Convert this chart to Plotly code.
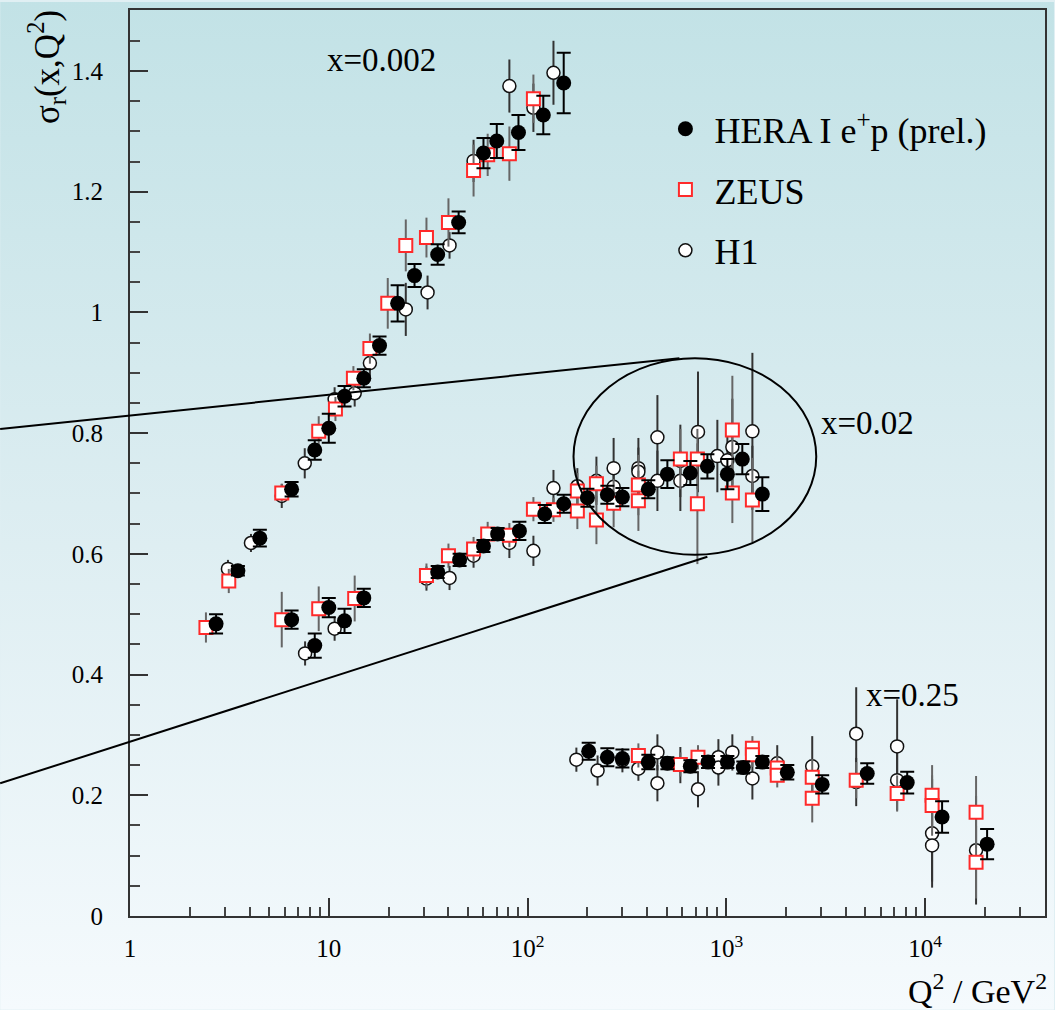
import base64
import plotly.graph_objects as go

# ---------------- data ----------------
# x = 0.002
q2_hera_002 = [3.49, 4.5, 6.5, 8.5, 10, 12, 15, 18, 22.2, 27, 35.3, 45, 60, 70, 90, 120, 152]
sig_hera_002 = [0.572, 0.626, 0.707, 0.772, 0.808, 0.861, 0.891, 0.945, 1.015, 1.061, 1.096, 1.149, 1.264, 1.284, 1.298, 1.327, 1.380]
err_hera_002 = [0.008, 0.014, 0.012, 0.016, 0.024, 0.017, 0.015, 0.015, 0.030, 0.019, 0.017, 0.018, 0.025, 0.028, 0.029, 0.032, 0.050]

q2_zeus_002 = [3.14, 5.8, 8.9, 10.8, 13.3, 16.1, 19.8, 24.4, 31, 40, 53.5, 63, 81, 107]
sig_zeus_002 = [0.555, 0.701, 0.803, 0.840, 0.891, 0.940, 1.015, 1.111, 1.124, 1.149, 1.235, 1.261, 1.263, 1.354]
err_zeus_002 = [0.020, 0.015, 0.025, 0.020, 0.020, 0.025, 0.042, 0.043, 0.033, 0.040, 0.043, 0.035, 0.045, 0.040]

q2_h1_002 = [3.11, 4.06, 5.8, 7.57, 10.7, 13.5, 16.1, 24.4, 31.4, 40.5, 53.5, 81, 107, 135]
sig_h1_002 = [0.575, 0.618, 0.696, 0.750, 0.856, 0.866, 0.916, 1.005, 1.033, 1.111, 1.251, 1.375, 1.339, 1.397]
err_h1_002 = [0.015, 0.015, 0.020, 0.025, 0.020, 0.022, 0.025, 0.044, 0.028, 0.022, 0.035, 0.044, 0.040, 0.053]

# x = 0.02
q2_hera_02 = [2.71, 6.5, 8.5, 10, 12, 15, 35.3, 45.5, 60, 70.7, 91, 122, 152, 200, 252, 300, 405, 505, 659, 803, 1012, 1203, 1517]
sig_hera_02 = [0.484, 0.491, 0.448, 0.511, 0.489, 0.527, 0.570, 0.590, 0.613, 0.633, 0.638, 0.666, 0.683, 0.693, 0.698, 0.694, 0.707, 0.732, 0.734, 0.745, 0.732, 0.757, 0.699]
err_hera_02 = [0.016, 0.015, 0.020, 0.016, 0.020, 0.015, 0.010, 0.010, 0.010, 0.010, 0.015, 0.015, 0.015, 0.015, 0.015, 0.015, 0.015, 0.023, 0.020, 0.020, 0.025, 0.025, 0.028]

q2_zeus_02 = [2.41, 5.8, 8.9, 13.5, 31, 40, 53.5, 63, 81, 107, 135, 178, 178, 222, 222, 271, 361, 361, 587, 715, 715, 1072, 1072, 1352]
sig_zeus_02 = [0.478, 0.491, 0.509, 0.526, 0.564, 0.597, 0.608, 0.633, 0.631, 0.674, 0.673, 0.704, 0.671, 0.716, 0.656, 0.684, 0.714, 0.688, 0.757, 0.757, 0.683, 0.805, 0.701, 0.689]
err_zeus_02 = [0.025, 0.046, 0.037, 0.038, 0.020, 0.020, 0.020, 0.020, 0.020, 0.020, 0.020, 0.030, 0.030, 0.030, 0.040, 0.040, 0.050, 0.050, 0.050, 0.050, 0.100, 0.090, 0.050, 0.070]

q2_h1_02 = [7.6, 10.7, 31, 40.5, 53.5, 81, 107, 135, 178, 222, 271, 271, 361, 361, 450, 450, 587, 587, 720, 901, 1012, 1072, 1352, 1352]
sig_h1_02 = [0.435, 0.476, 0.559, 0.560, 0.597, 0.618, 0.605, 0.709, 0.712, 0.721, 0.742, 0.711, 0.742, 0.736, 0.793, 0.721, 0.754, 0.721, 0.802, 0.762, 0.755, 0.777, 0.803, 0.729]
err_h1_02 = [0.020, 0.020, 0.020, 0.020, 0.020, 0.025, 0.025, 0.030, 0.030, 0.040, 0.050, 0.040, 0.050, 0.040, 0.070, 0.050, 0.060, 0.050, 0.100, 0.060, 0.050, 0.080, 0.130, 0.050]

# x = 0.25
q2_hera_25 = [203, 252, 300, 405, 505, 659, 809, 1012, 1217, 1517, 2026, 3035, 5113, 8125, 12170, 20500]
sig_hera_25 = [0.273, 0.263, 0.261, 0.255, 0.253, 0.248, 0.255, 0.255, 0.246, 0.255, 0.238, 0.218, 0.236, 0.221, 0.164, 0.119]
err_hera_25 = [0.014, 0.015, 0.015, 0.012, 0.010, 0.010, 0.010, 0.010, 0.010, 0.010, 0.012, 0.015, 0.017, 0.018, 0.026, 0.025]

q2_zeus_25 = [361, 587, 720, 1352, 1352, 1803, 1803, 2704, 2704, 4500, 7230, 10840, 10840, 18040, 18040]
sig_zeus_25 = [0.266, 0.251, 0.263, 0.278, 0.267, 0.245, 0.233, 0.230, 0.195, 0.225, 0.203, 0.200, 0.183, 0.172, 0.089]
err_zeus_25 = [0.020, 0.020, 0.020, 0.020, 0.020, 0.020, 0.020, 0.030, 0.040, 0.030, 0.030, 0.050, 0.050, 0.060, 0.060]

q2_h1_25 = [176, 225, 300, 361, 450, 450, 587, 720, 912, 912, 1072, 1352, 1803, 2704, 4500, 4500, 7230, 7230, 10840, 10840, 18040]
sig_h1_25 = [0.259, 0.241, 0.258, 0.244, 0.271, 0.220, 0.250, 0.210, 0.263, 0.246, 0.271, 0.228, 0.253, 0.248, 0.302, 0.222, 0.281, 0.225, 0.137, 0.117, 0.109]
err_h1_25 = [0.020, 0.025, 0.020, 0.020, 0.030, 0.030, 0.030, 0.030, 0.030, 0.030, 0.030, 0.035, 0.030, 0.050, 0.077, 0.040, 0.078, 0.050, 0.090, 0.060, 0.090]

bin_labels = ["x=0.002", "x=0.02", "x=0.25"]
legend_names = ["HERA I e<sup>+</sup>p (prel.)", "ZEUS", "H1"]
x_tick_vals = [1, 10, 100, 1000, 10000]
x_tick_text = ["1", "10", "10<sup>2</sup>", "10<sup>3</sup>", "10<sup>4</sup>"]

SERIF = "Liberation Serif, Times New Roman, serif"
NBSP = "\u00a0"

fig = go.Figure()

h1_sets = [(q2_h1_002, sig_h1_002, err_h1_002), (q2_h1_02, sig_h1_02, err_h1_02), (q2_h1_25, sig_h1_25, err_h1_25)]
zeus_sets = [(q2_zeus_002, sig_zeus_002, err_zeus_002), (q2_zeus_02, sig_zeus_02, err_zeus_02), (q2_zeus_25, sig_zeus_25, err_zeus_25)]
hera_sets = [(q2_hera_002, sig_hera_002, err_hera_002), (q2_hera_02, sig_hera_02, err_hera_02), (q2_hera_25, sig_hera_25, err_hera_25)]

for i, (q, s, e) in enumerate(h1_sets):
    fig.add_trace(go.Scatter(
        x=q, y=s, mode="markers", name=NBSP + legend_names[2], legendgroup="h1", legendrank=3,
        showlegend=(i == 0),
        marker=dict(symbol="circle", size=13, color="white", line=dict(color="#111", width=1.5)),
        error_y=dict(type="data", array=e, color="#333", thickness=2, width=0),
    ))
for i, (q, s, e) in enumerate(zeus_sets):
    fig.add_trace(go.Scatter(
        x=q, y=s, mode="markers", name=NBSP + legend_names[1], legendgroup="zeus", legendrank=2,
        showlegend=(i == 0),
        marker=dict(symbol="square", size=13, color="white", line=dict(color="#ff2a2a", width=2)),
        error_y=dict(type="data", array=e, color="#666", thickness=2, width=0),
    ))
for i, (q, s, e) in enumerate(hera_sets):
    fig.add_trace(go.Scatter(
        x=q, y=s, mode="markers", name=NBSP + legend_names[0], legendgroup="hera", legendrank=1,
        showlegend=(i == 0),
        marker=dict(symbol="circle", size=15, color="black", line=dict(color="black", width=0)),
        error_y=dict(type="data", array=e, color="black", thickness=2, width=7),
    ))

# gradient background (whole page)
svg = ('<svg xmlns="http://www.w3.org/2000/svg" width="100" height="100" preserveAspectRatio="none">'
       '<defs><linearGradient id="g" x1="0" y1="0" x2="0" y2="1">'
       '<stop offset="0" stop-color="#c2e2e6"/><stop offset="0.5" stop-color="#dcedf1"/>'
       '<stop offset="1" stop-color="#f5fafd"/></linearGradient></defs>'
       '<rect width="100" height="100" fill="url(#g)"/></svg>')
svg_uri = "data:image/svg+xml;base64," + base64.b64encode(svg.encode()).decode()

L, R, T, B = 130, 9, 8, 94
W, H = 1055, 1010
pw, ph = W - L - R, H - T - B

def px(xp):
    return (xp - L) / pw

def py(yp):
    return (H - B - yp) / ph

fig.add_layout_image(dict(
    source=svg_uri, xref="paper", yref="paper", x=px(0), y=py(0),
    sizex=W / pw, sizey=H / ph, xanchor="left", yanchor="top",
    sizing="stretch", layer="below",
))

# zoom ellipse and guide lines
fig.add_shape(type="circle", xref="paper", yref="paper",
              x0=px(574), x1=px(817), y0=py(554), y1=py(357),
              line=dict(color="black", width=2))
fig.add_shape(type="line", xref="paper", yref="paper",
              x0=px(0), y0=py(428), x1=px(680), y1=py(357),
              line=dict(color="black", width=2))
fig.add_shape(type="line", xref="paper", yref="paper",
              x0=px(0), y0=py(783), x1=px(708), y1=py(556),
              line=dict(color="black", width=2))

# bin labels
for lab, (cx, cy) in zip(bin_labels, [(382, 58), (868, 422), (913, 695)]):
    fig.add_annotation(text=lab, xref="paper", yref="paper", x=px(cx), y=py(cy),
                       showarrow=False, xanchor="center", yanchor="middle",
                       font=dict(family=SERIF, size=33, color="black"))

# axis titles
fig.add_annotation(text="σ<sub>r</sub>(x,Q<sup>2</sup>)", xref="paper", yref="paper",
                   x=px(46), y=py(6), textangle=-90, showarrow=False,
                   xanchor="center", yanchor="top",
                   font=dict(family=SERIF, size=35, color="black"))
fig.add_annotation(text="Q<sup>2</sup> / GeV<sup>2</sup>", xref="paper", yref="paper",
                   x=px(1050), y=py(989), showarrow=False,
                   xanchor="right", yanchor="middle",
                   font=dict(family=SERIF, size=34, color="black"))

minor_x = [m * 10 ** k for k in range(5) for m in range(2, 10)]

fig.update_xaxes(
    type="log", range=[0, 4.603],
    tickvals=x_tick_vals, ticktext=x_tick_text,
    ticks="inside", ticklen=18, tickwidth=2, tickcolor="#333",
    minor=dict(tickvals=minor_x, ticks="inside", ticklen=9, tickwidth=1.5, tickcolor="#444"),
    showline=True, linecolor="#333", linewidth=2, mirror=True,
    showgrid=False, zeroline=False,
    tickfont=dict(family=SERIF, size=25, color="black"),
    ticklabelstandoff=9,
)
fig.update_yaxes(
    range=[0, 1.501], tick0=0, dtick=0.2,
    ticks="inside", ticklen=18, tickwidth=2, tickcolor="#333",
    minor=dict(dtick=0.05, ticks="inside", ticklen=10, tickwidth=1.5, tickcolor="#444"),
    showline=True, linecolor="#333", linewidth=2, mirror=True,
    showgrid=False, zeroline=False,
    tickfont=dict(family=SERIF, size=25, color="black"),
    ticklabelstandoff=20,
)

fig.update_layout(
    width=W, height=H,
    margin=dict(l=L, r=R, t=T, b=B),
    paper_bgcolor="#e0eff3", plot_bgcolor="rgba(0,0,0,0)",
    showlegend=True,
    legend=dict(x=px(666), y=py(97), xanchor="left", yanchor="top",
                bgcolor="rgba(0,0,0,0)", borderwidth=0,
                font=dict(family=SERIF, size=36, color="black"),
                tracegroupgap=11, traceorder="grouped", itemsizing="trace"),
    hovermode=False,
)

fig.write_html("out.html")
